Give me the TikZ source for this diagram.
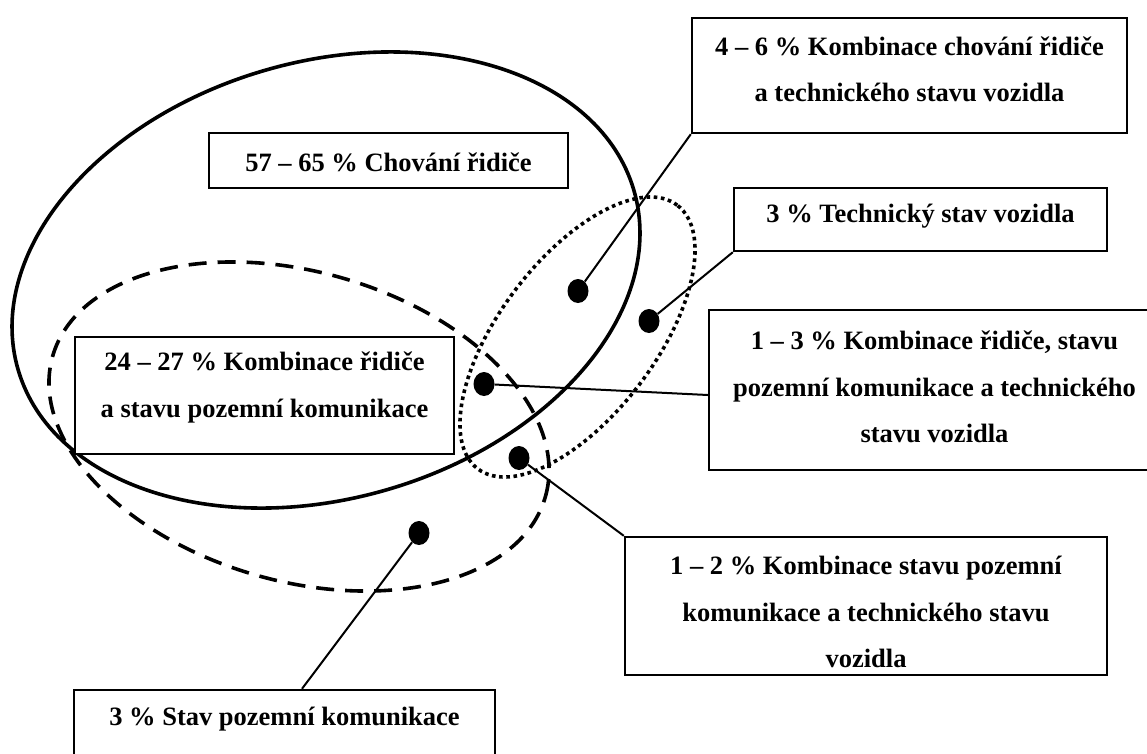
\documentclass[tikz,border=0pt]{standalone}
\usepackage{fontspec}
\setmainfont{Liberation Serif}
\usetikzlibrary{shapes.geometric,calc}
\begin{document}
\begin{tikzpicture}[x=1pt,y=1pt,
  box/.style={draw=black,line width=2.4pt,fill=white,rectangle,inner sep=0pt},
  txt/.style={align=center,inner sep=0pt,font=\fontsize{26.5}{46.5}\selectfont\bfseries},
  dot/.style={ellipse,fill=black,minimum width=21pt,minimum height=24pt,inner sep=0pt},
  conn/.style={draw=black,line width=2pt},
  solidring/.style={draw=black,line width=3.6pt},
  dashring/.style={draw=black,line width=3.6pt,dash pattern=on 18pt off 11pt},
  dotring/.style={draw=black,line width=3.6pt,dash pattern=on 3.6pt off 3.6pt}]
\useasboundingbox (0,0) rectangle (1147,-753);
\fill[white] (0,0) rectangle (1147,-753);

% ellipses
\draw[solidring,rotate around={16.2:(326,-280)}] (326,-280) ellipse [x radius=320.7pt, y radius=218.4pt];
\draw[dashring,rotate around={-15.9:(299,-426.5)}] (299,-426.5) ellipse [x radius=256.2pt, y radius=154.7pt];
\draw[dotring,rotate around={52.9:(577.5,-337)}] (577.5,-337) ellipse [x radius=165.3pt, y radius=78pt];

% boxes
\node[box,minimum width=359pt,minimum height=55pt] (b57) at (388.5,-160.5) {};
\node[txt] (t57) at (388.5,-162) {57 – 65 \% Chování řidiče};

\node[box,minimum width=435pt,minimum height=115pt] (b46) at (909.5,-75.5) {};
\node[txt] (t46) at (909.5,-69.5) {4 – 6 \% Kombinace chování řidiče\\a technického stavu vozidla};

\node[box,minimum width=373pt,minimum height=63pt] (bt) at (920.5,-219.5) {};
\node[txt] (tt) at (920.5,-216) {3 \% Technický stav vozidla};

\node[box,minimum width=451pt,minimum height=160pt] (b13) at (934.5,-390) {};
\node[txt] (t13) at (934.5,-387) {1 – 3 \% Kombinace řidiče, stavu\\pozemní komunikace a technického\\stavu vozidla};

\node[box,minimum width=379pt,minimum height=117pt] (b24) at (264.5,-395.5) {};
\node[txt] (t24) at (264.5,-387.5) {24 – 27 \% Kombinace řidiče\\a stavu pozemní komunikace};

\node[box,minimum width=482pt,minimum height=138pt] (b12) at (866,-606) {};
\node[txt] (t12) at (866,-612) {1 – 2 \% Kombinace stavu pozemní\\komunikace a technického stavu\\vozidla};

\node[box,minimum width=421pt,minimum height=110pt] (bs) at (284.5,-745) {};
\node[txt] (ts) at (284.5,-719) {3 \% Stav pozemní komunikace};

% dots
\node[dot] (d1) at (578,-291) {};
\node[dot] (d2) at (649,-321) {};
\node[dot] (d3) at (484,-384) {};
\node[dot] (d4) at (519,-458) {};
\node[dot] (d5) at (419,-533) {};

% connectors
\draw[conn] (d1) -- (b46.south west);
\draw[conn] (d2) -- (bt.south west);
\draw[conn] (d3) -- ([yshift=-5pt]b13.west);
\draw[conn] (d4) -- (b12.north west);
\draw[conn] (d5) -- ([xshift=17.5pt]bs.north);
\end{tikzpicture}
\end{document}
